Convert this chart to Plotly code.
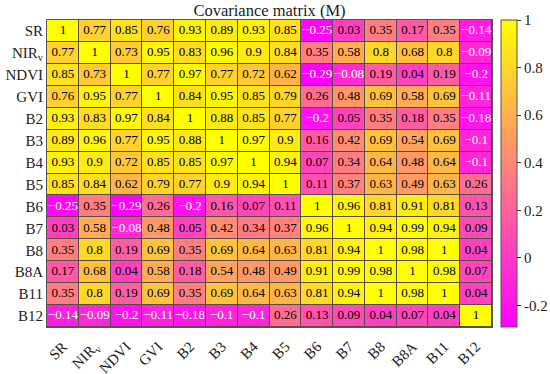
import plotly.graph_objects as go

labels = ["SR", "NIR<sub>v</sub>", "NDVI", "GVI", "B2", "B3", "B4", "B5",
          "B6", "B7", "B8", "B8A", "B11", "B12"]

matrix = [
    [1, 0.77, 0.85, 0.76, 0.93, 0.89, 0.93, 0.85, -0.25, 0.03, 0.35, 0.17, 0.35, -0.14],
    [0.77, 1, 0.73, 0.95, 0.83, 0.96, 0.9, 0.84, 0.35, 0.58, 0.8, 0.68, 0.8, -0.09],
    [0.85, 0.73, 1, 0.77, 0.97, 0.77, 0.72, 0.62, -0.29, -0.08, 0.19, 0.04, 0.19, -0.2],
    [0.76, 0.95, 0.77, 1, 0.84, 0.95, 0.85, 0.79, 0.26, 0.48, 0.69, 0.58, 0.69, -0.11],
    [0.93, 0.83, 0.97, 0.84, 1, 0.88, 0.85, 0.77, -0.2, 0.05, 0.35, 0.18, 0.35, -0.18],
    [0.89, 0.96, 0.77, 0.95, 0.88, 1, 0.97, 0.9, 0.16, 0.42, 0.69, 0.54, 0.69, -0.1],
    [0.93, 0.9, 0.72, 0.85, 0.85, 0.97, 1, 0.94, 0.07, 0.34, 0.64, 0.48, 0.64, -0.1],
    [0.85, 0.84, 0.62, 0.79, 0.77, 0.9, 0.94, 1, 0.11, 0.37, 0.63, 0.49, 0.63, 0.26],
    [-0.25, 0.35, -0.29, 0.26, -0.2, 0.16, 0.07, 0.11, 1, 0.96, 0.81, 0.91, 0.81, 0.13],
    [0.03, 0.58, -0.08, 0.48, 0.05, 0.42, 0.34, 0.37, 0.96, 1, 0.94, 0.99, 0.94, 0.09],
    [0.35, 0.8, 0.19, 0.69, 0.35, 0.69, 0.64, 0.63, 0.81, 0.94, 1, 0.98, 1, 0.04],
    [0.17, 0.68, 0.04, 0.58, 0.18, 0.54, 0.48, 0.49, 0.91, 0.99, 0.98, 1, 0.98, 0.07],
    [0.35, 0.8, 0.19, 0.69, 0.35, 0.69, 0.64, 0.63, 0.81, 0.94, 1, 0.98, 1, 0.04],
    [-0.14, -0.09, -0.2, -0.11, -0.18, -0.1, -0.1, 0.26, 0.13, 0.09, 0.04, 0.07, 0.04, 1],
]

cbar_ticks = [-0.2, 0, 0.2, 0.4, 0.6, 0.8, 1]
zmin, zmax = -0.29, 1.0
spring = [[0, "#ff00ff"], [1, "#ffff00"]]
font = "Liberation Serif"
n = len(labels)


def fmt(v):
    s = f"{v:.2f}".rstrip("0").rstrip(".")
    return s.replace("-", "\u2212")


fig = go.Figure()
fig.add_trace(go.Heatmap(
    z=matrix, x=labels, y=labels,
    colorscale=spring, zmin=zmin, zmax=zmax, xgap=1, ygap=1,
    colorbar=dict(
        tickvals=cbar_ticks, ticktext=[str(t) for t in cbar_ticks],
        thickness=16, len=1, lenmode="fraction", y=0.5, yanchor="middle",
        x=1, xanchor="left", xpad=9, ypad=0,
        outlinecolor="#555", outlinewidth=1,
        ticks="outside", ticklen=4, tickcolor="#333",
        tickfont=dict(family=font, size=15, color="#222"),
    ),
))

# cell value labels (black for non-negative, white for negative)
for neg, color in ((False, "black"), (True, "white")):
    xs, ys, ts = [], [], []
    for i, row in enumerate(matrix):
        for j, v in enumerate(row):
            if (v < 0) == neg:
                xs.append(labels[j])
                ys.append(labels[i])
                ts.append(fmt(v))
    fig.add_trace(go.Scatter(
        x=xs, y=ys, text=ts, mode="text", hoverinfo="skip",
        textfont=dict(family=font, size=13, color=color),
    ))

fig.update_layout(
    width=550, height=374,
    margin=dict(l=47, r=58, t=20, b=47, autoexpand=False),
    font=dict(family=font),
    paper_bgcolor="white", plot_bgcolor="#5a4a4a",
    title=dict(text="Covariance matrix (M)", x=0.49, xanchor="center",
               y=0.972, yanchor="middle",
               font=dict(family=font, size=16.5, color="#222")),
    showlegend=False,
)
fig.update_xaxes(tickangle=-45, tickfont=dict(family=font, size=15, color="#222"),
                 ticklabelstandoff=4, automargin=False, range=[-0.5, n - 0.5],
                 showline=True, mirror=True, linecolor="#555", ticks="", showgrid=False)
fig.update_yaxes(range=[n - 0.5, -0.5], tickfont=dict(family=font, size=15, color="#222"),
                 automargin=False,
                 showline=True, mirror=True, linecolor="#555", ticks="", showgrid=False)

fig.write_html("out.html", config={"displayModeBar": False},
               post_script="document.body.style.margin='0';document.body.style.padding='0';")
